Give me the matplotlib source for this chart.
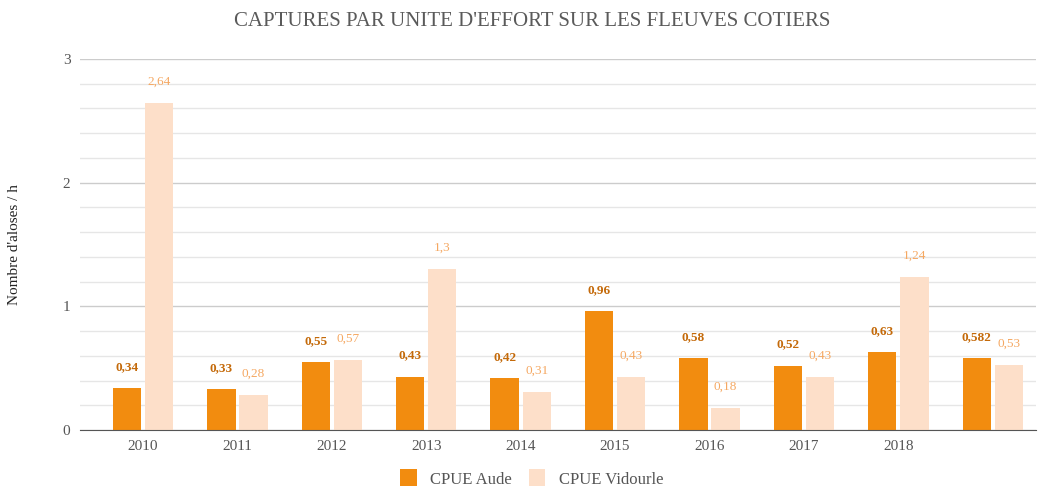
import matplotlib.pyplot as plt
import numpy as np

plt.rcParams['font.family'] = ['Liberation Serif', 'DejaVu Serif']

annees = ['2010', '2011', '2012', '2013', '2014', '2015', '2016', '2017', '2018', '']
cpue_aude = [0.34, 0.33, 0.55, 0.43, 0.42, 0.96, 0.58, 0.52, 0.63, 0.582]
cpue_vidourle = [2.64, 0.28, 0.57, 1.3, 0.31, 0.43, 0.18, 0.43, 1.24, 0.53]
lab_aude = ['0,34', '0,33', '0,55', '0,43', '0,42', '0,96', '0,58', '0,52', '0,63', '0,582']
lab_vid = ['2,64', '0,28', '0,57', '1,3', '0,31', '0,43', '0,18', '0,43', '1,24', '0,53']

c_aude = '#F28C0F'
c_vid = '#FDDFC9'

fig = plt.figure(figsize=(10.49, 4.86), dpi=100)
ax = fig.add_axes([0.0763, 0.115, 0.911, 0.764])

x = np.arange(len(annees))
w = 0.3
b1 = ax.bar(x - w/2 - 0.02, cpue_aude, w, color=c_aude, label='CPUE Aude', zorder=3)
b2 = ax.bar(x + w/2 + 0.02, cpue_vidourle, w, color=c_vid, label='CPUE Vidourle', zorder=3)

for r, t in zip(b1, lab_aude):
    ax.annotate(t, (r.get_x() + r.get_width()/2, r.get_height()), xytext=(0, 11),
                textcoords='offset points', ha='center', va='bottom', fontsize=9.5,
                color='#C46A0A', fontweight='semibold')
for r, t in zip(b2, lab_vid):
    ax.annotate(t, (r.get_x() + r.get_width()/2, r.get_height()), xytext=(0, 11),
                textcoords='offset points', ha='center', va='bottom', fontsize=9.5,
                color='#F5A862')

ax.set_xlim(-0.667, len(annees) - 0.545)
ax.set_ylim(0, 3)
ax.set_yticks([0, 1, 2, 3])
ax.set_yticks(np.arange(0, 3.01, 0.2), minor=True)
ax.grid(axis='y', which='major', color='#CCCCCC', lw=1, zorder=0)
ax.grid(axis='y', which='minor', color='#E6E6E6', lw=1, zorder=0)
ax.set_xticks(x)
ax.set_xticklabels(annees)
ax.tick_params(axis='both', which='both', length=0, labelsize=11, colors='#555555', pad=7)
for s in ['top', 'right', 'left']:
    ax.spines[s].set_visible(False)
ax.spines['bottom'].set_color('#555555')
ax.spines['bottom'].set_zorder(4)

ax.set_ylabel("Nombre d'aloses / h", fontsize=11, color='#222222')
ax.yaxis.set_label_coords(-0.062, 0.5)
fig.suptitle("CAPTURES PAR UNITE D'EFFORT SUR LES FLEUVES COTIERS", x=0.507, y=0.975,
             fontsize=15, color='#5A5A5A')

fig.legend(loc='lower center', ncol=2, frameon=False, fontsize=12,
           bbox_to_anchor=(0.507, -0.035), handlelength=1.0, handleheight=1.3,
           columnspacing=1.0, handletextpad=0.8, labelcolor='#555555')

fig.savefig('out.png', dpi=100)
